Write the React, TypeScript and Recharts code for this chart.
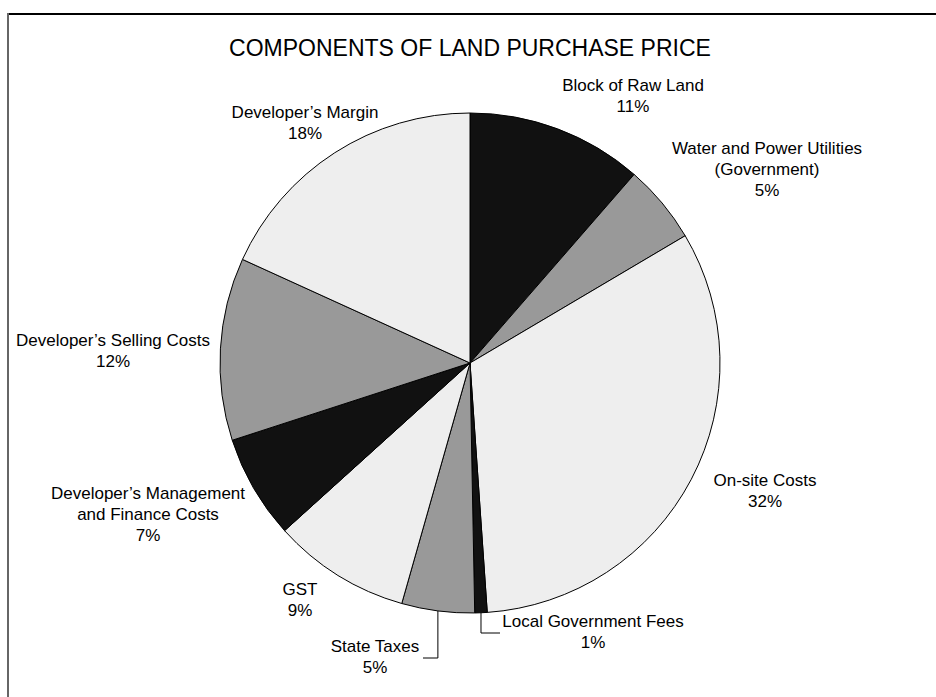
import React from "react";
import { PieChart, Pie, Cell } from "recharts";

const categories = [
  "Block of Raw Land",
  "Water and Power Utilities (Government)",
  "On-site Costs",
  "Local Government Fees",
  "State Taxes",
  "GST",
  "Developer’s Management and Finance Costs",
  "Developer’s Selling Costs",
  "Developer’s Margin",
];
const shares = [11.4, 5.1, 32.4, 0.8, 4.7, 8.9, 6.7, 11.8, 18.2];
const labelLines = [
  ["Block of Raw Land"],
  ["Water and Power Utilities", "(Government)"],
  ["On-site Costs"],
  ["Local Government Fees"],
  ["State Taxes"],
  ["GST"],
  ["Developer’s Management", "and Finance Costs"],
  ["Developer’s Selling Costs"],
  ["Developer’s Margin"],
];

const data = categories.map((name, i) => ({ name, value: shares[i] }));

// fills cycle black / grey / light
const fills = ["#111111", "#999999", "#eeeeee"];

// label block centre, relative to pie centre; leader = [bendY, endX] relative
const labelAt: { dx: number; dy: number; leader?: [number, number] }[] = [
  { dx: 163, dy: -267 },
  { dx: 297, dy: -194 },
  { dx: 295, dy: 128 },
  { dx: 123, dy: 268.5, leader: [270, 30] },
  { dx: -95, dy: 293.5, leader: [295, -47] },
  { dx: -170, dy: 237 },
  { dx: -322, dy: 151 },
  { dx: -357, dy: -12 },
  { dx: -165, dy: -240 },
];

const RADIAN = Math.PI / 180;
const LINE_H = 21;

const renderLabel = (props: any) => {
  const { cx, cy, midAngle, outerRadius, index, percent } = props;
  const pos = labelAt[index];
  const lines = [...labelLines[index], `${Math.round(percent * 100)}%`];
  const x = cx + pos.dx;
  const y0 = cy + pos.dy - ((lines.length - 1) * LINE_H) / 2;
  let leader = null;
  if (pos.leader) {
    const sx = cx + outerRadius * Math.cos(-midAngle * RADIAN);
    const sy = cy + outerRadius * Math.sin(-midAngle * RADIAN);
    const by = cy + pos.leader[0];
    const ex = cx + pos.leader[1];
    leader = (
      <polyline
        points={`${sx},${sy} ${sx},${by} ${ex},${by}`}
        fill="none"
        stroke="#000"
        strokeWidth={1}
      />
    );
  }
  return (
    <g key={`lbl-${index}`}>
      {leader}
      <text
        x={x}
        y={y0}
        textAnchor="middle"
        fontSize={17}
        fontFamily="'Liberation Sans', Arial, sans-serif"
        fill="#000"
      >
        {lines.map((t, j) => (
          <tspan key={j} x={x} y={y0 + j * LINE_H} dominantBaseline="central">
            {t}
          </tspan>
        ))}
      </text>
    </g>
  );
};

const App = () => {
  return (
    <div style={{ position: "absolute", left: 0, top: 0, width: 936, height: 697, background: "#fff" }}>
      <div style={{ position: "absolute", left: 7, top: 13, width: 929, height: 2, background: "#000" }} />
      <div style={{ position: "absolute", left: 7, top: 13, width: 2, height: 684, background: "#666" }} />
      <div
        style={{
          position: "absolute",
          left: 0,
          top: 33,
          width: 940,
          textAlign: "center",
          fontFamily: "'Liberation Sans', Arial, sans-serif",
          fontSize: 23,
          lineHeight: "30px",
          color: "#000",
        }}
      >
        COMPONENTS OF LAND PURCHASE PRICE
      </div>
      <div style={{ position: "absolute", left: 0, top: 0 }}>
        <PieChart width={936} height={697} margin={{ top: 0, right: 0, bottom: 0, left: 0 }}>
          <Pie
            data={data}
            dataKey="value"
            nameKey="name"
            cx={470}
            cy={363}
            outerRadius={250}
            startAngle={90}
            endAngle={-270}
            stroke="#000"
            strokeWidth={1}
            label={renderLabel}
            labelLine={false}
            isAnimationActive={false}
          >
            {data.map((d, i) => (
              <Cell key={d.name} fill={fills[i % 3]} />
            ))}
          </Pie>
        </PieChart>
      </div>
    </div>
  );
};

export default App;
